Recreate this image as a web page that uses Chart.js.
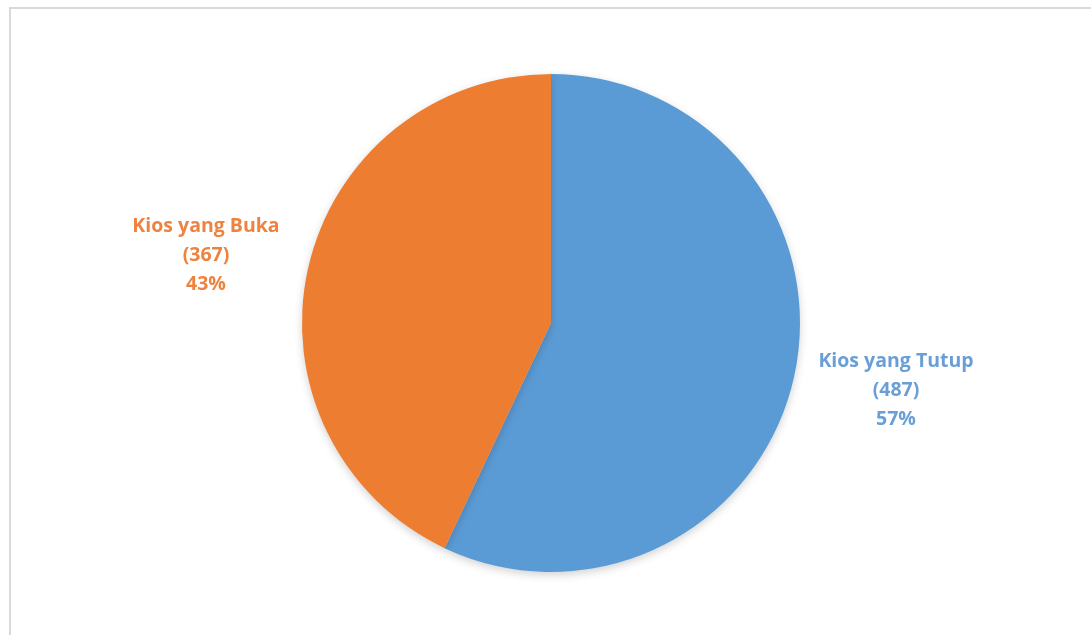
<!DOCTYPE html>
<html>
<head>
<meta charset="utf-8">
<script src="https://cdn.jsdelivr.net/npm/chart.js@4"></script>
<style>
  html, body { margin: 0; padding: 0; background: #fff; overflow: hidden; }
  #frame { position: absolute; left: 9px; top: 7px; width: 1100px; height: 650px;
           border-left: 2px solid #d9d9d9; border-top: 2px solid #d9d9d9; }
  #wrap { position: absolute; left: 0; top: 0; width: 1091px; height: 635px; }
</style>
</head>
<body>
<div id="frame"></div>
<div id="wrap"><canvas id="kiosChart"></canvas></div>
<script>
// data
const categories = ['Kios yang Tutup', 'Kios yang Buka'];
const counts = [487, 367];
const sliceColors = ['#5B9BD5', '#ED7D31'];
const labelColors = ['#6A9FD6', '#EE8340'];

// labels outside the slices: name, (count), percent
const outsideLabels = {
  id: 'outsideLabels',
  afterDatasetsDraw(chart) {
    const ctx = chart.ctx;
    const meta = chart.getDatasetMeta(0);
    const total = counts.reduce((a, b) => a + b, 0);
    ctx.save();
    ctx.font = 'bold 19.5px "Open Sans", sans-serif';
    ctx.textAlign = 'center';
    ctx.textBaseline = 'middle';
    meta.data.forEach((arc, i) => {
      const mid = (arc.startAngle + arc.endAngle) / 2;
      const r = arc.outerRadius;
      const x = arc.x + Math.cos(mid) * r * 1.42;
      const y = arc.y + Math.sin(mid) * r * 1.24;
      const pct = Math.round(counts[i] / total * 100) + '%';
      const lines = [categories[i], '(' + counts[i] + ')', pct];
      ctx.fillStyle = labelColors[i];
      lines.forEach((t, k) => ctx.fillText(t, x, y + (k - 1) * 29));
    });
    ctx.restore();
  }
};

// soft shadow under the pie
const pieShadow = {
  id: 'pieShadow',
  beforeDatasetsDraw(chart) {
    const ctx = chart.ctx;
    ctx.save();
    ctx.shadowColor = 'rgba(0,0,0,0.18)';
    ctx.shadowBlur = 8;
    ctx.shadowOffsetY = 3;
  },
  afterDatasetsDraw(chart) {
    chart.ctx.restore();
  }
};

const ctx = document.getElementById('kiosChart').getContext('2d');
const kiosChart = new Chart(ctx, {
  type: 'pie',
  data: {
    labels: categories,
    datasets: [{
      data: counts,
      backgroundColor: sliceColors,
      borderWidth: 0
    }]
  },
  options: {
    responsive: true,
    maintainAspectRatio: false,
    animation: false,
    layout: { padding: { top: 74, bottom: 63, left: 11, right: 0 } },
    plugins: {
      legend: { display: false },
      tooltip: { enabled: false }
    }
  },
  plugins: [pieShadow, outsideLabels]
});
</script>
</body>
</html>
